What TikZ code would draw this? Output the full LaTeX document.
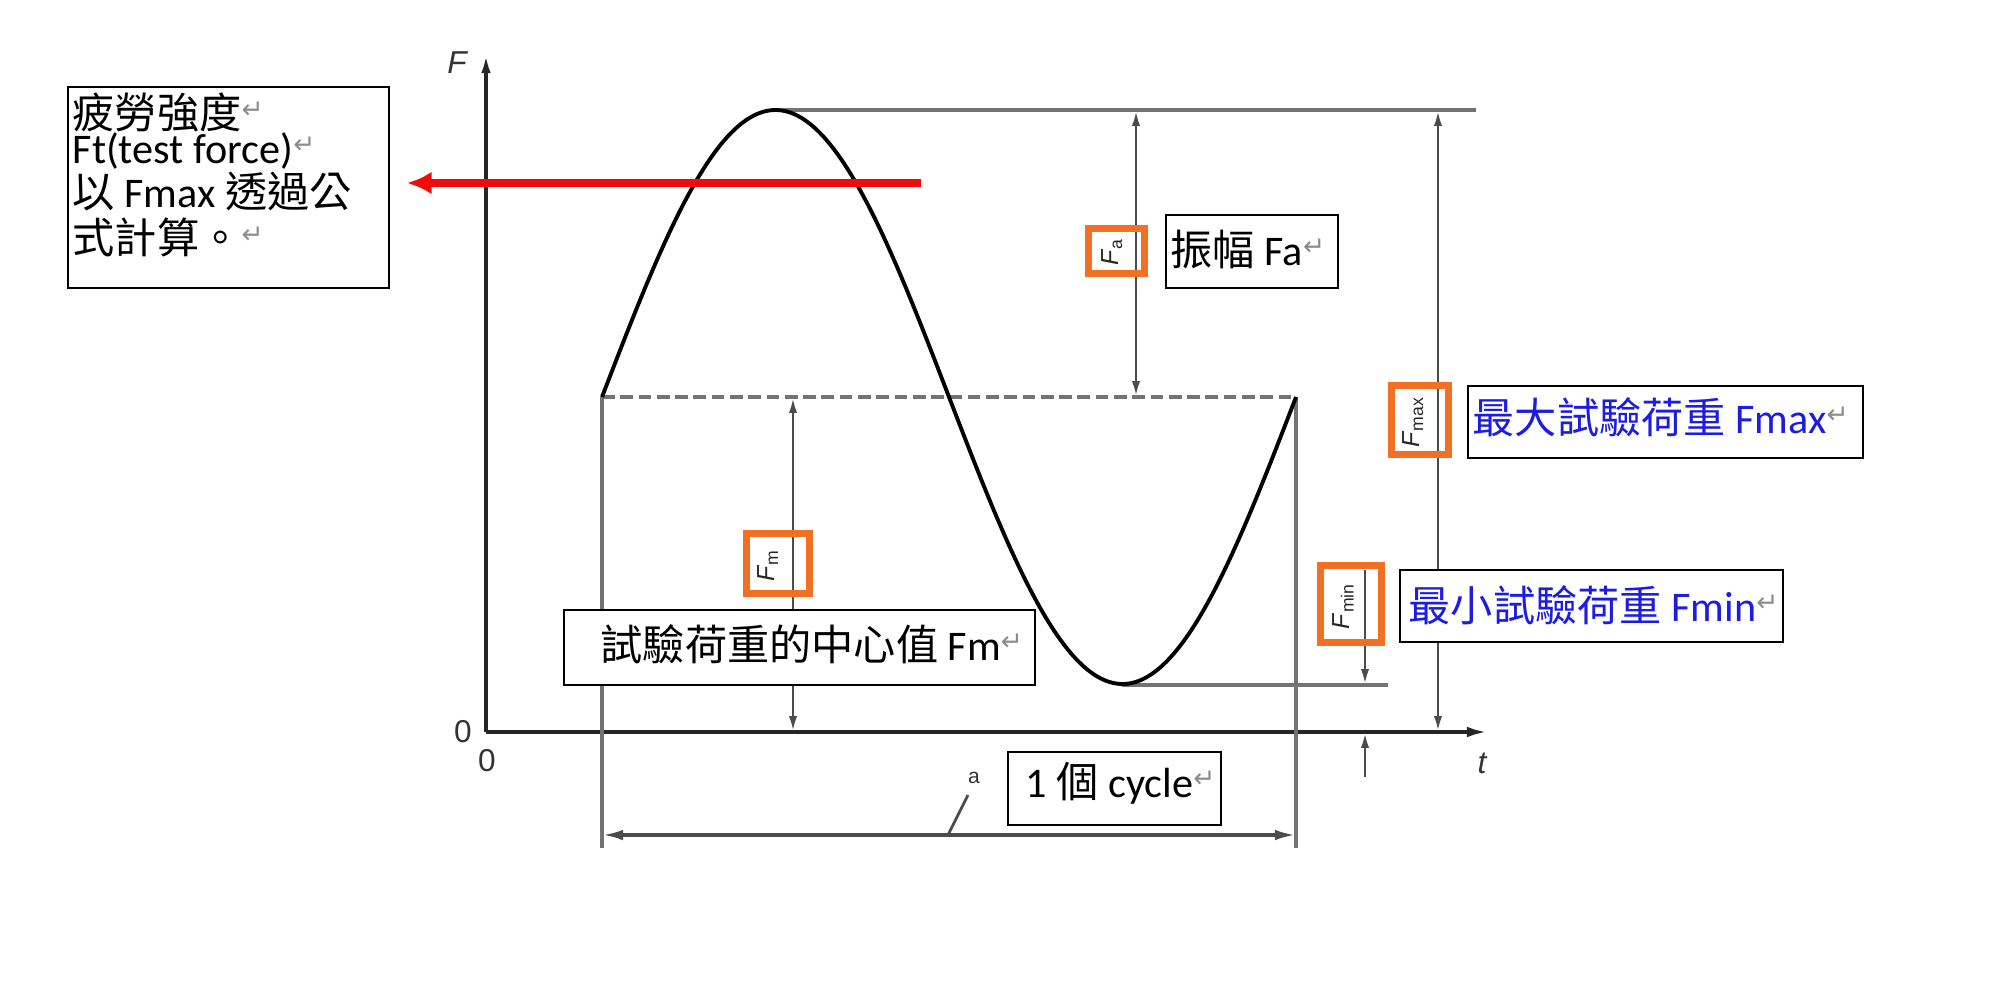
\documentclass[tikz,border=0pt]{standalone}
\usepackage{fontspec}
\setmainfont{Carlito}
\newfontfamily\cjk{Noto Sans CJK TC}
\newfontfamily\arialf{Liberation Sans}
\newfontfamily\dvs{DejaVu Sans}
\usetikzlibrary{arrows.meta}
\definecolor{orng}{RGB}{242,112,36}
\definecolor{blu}{RGB}{28,28,226}
\definecolor{redar}{RGB}{240,12,12}
\newcommand\parmk{\raisebox{2.6pt}{\dvs\fontsize{7.5}{7.5}\selectfont\color{black!45}↵}}
\begin{document}
\begin{tikzpicture}[x=0.01cm,y=-0.01cm,
  axisline/.style={line width=1.1pt,draw=black!85},
  extline/.style={line width=1.1pt,draw=black!55},
  dimline/.style={line width=0.8pt,draw=black!70},
  dtip/.style={-{Latex[length=4.5pt,width=2.3pt]}},
  ddtip/.style={{Latex[length=4.5pt,width=2.3pt]}-{Latex[length=4.5pt,width=2.3pt]}},
  txtbox/.style={draw=black,line width=0.7pt,fill=white,inner sep=0pt},
  obox/.style={draw=orng,line width=2.1pt,inner sep=0pt},
  boxtext/.style={anchor=base west,inner sep=0pt,font=\fontsize{12}{12}\selectfont},
  rlab/.style={rotate=90,inner sep=0pt,font=\arialf\fontsize{7}{7}\selectfont,text=black!85},
  axlab/.style={inner sep=0pt,font=\arialf\fontsize{9}{9}\selectfont,text=black!80}
]
\useasboundingbox (0,0) rectangle (2000,1000);

% coordinates
\coordinate (O) at (486,732);
\coordinate (Ytop) at (486,52);
\coordinate (Xend) at (1488,732);
\coordinate (cS) at (602,397);
\coordinate (cE) at (1296,397);
\coordinate (pk) at (776,110);
\coordinate (topR) at (1476,110);
\coordinate (tr) at (1122,685);
\coordinate (trR) at (1388,685);
\coordinate (v1b) at (602,848);
\coordinate (v2b) at (1296,848);
\coordinate (cyL) at (602,835);
\coordinate (cyR) at (1296,835);
\coordinate (ldA) at (948,835);
\coordinate (ldB) at (968,795);
\coordinate (fmT) at (793,397);
\coordinate (fmB) at (793,732);
\coordinate (faT) at (1136,110);
\coordinate (faB) at (1136,397);
\coordinate (fxT) at (1438,110);
\coordinate (fxB) at (1438,732);
\coordinate (fnA) at (1365,570);
\coordinate (fnB) at (1365,685);
\coordinate (fnC) at (1365,732);
\coordinate (fnD) at (1365,777);
\coordinate (redS) at (921,183);
\coordinate (redE) at (407,183);

% axes
\draw[axisline,-{Latex[length=6pt,width=2.6pt]}] (O) -- (Ytop);
\draw[axisline,-{Latex[length=6pt,width=3pt]}] (O) -- (Xend);
\node[axlab,font=\arialf\itshape\fontsize{9}{9}\selectfont] (Flab) at (457,63) {F};
\node[axlab,font=\arialf\itshape\fontsize{9}{9}\selectfont] (tlab) at (1482,763) {t};
\node[axlab] (zeroY) at (463,732) {0};
\node[axlab] (zeroX) at (487,761) {0};

% extension lines
\draw[extline] (pk) -- (topR);
\draw[extline] (tr) -- (trR);
\draw[extline] (cS) -- (v1b);
\draw[extline] (cE) -- (v2b);
\draw[extline,line width=0.9pt,dash pattern=on 3.6pt off 1.6pt] (cS) -- (cE);

% sine curve
\draw[line width=1.1pt,black] plot[domain=0:360,samples=140,smooth] ({602+1.927778*\x},{397-287*sin(\x)});

% dimension lines
\draw[dimline,ddtip] (fmT) -- (fmB);
\draw[dimline,ddtip] (faT) -- (faB);
\draw[dimline,ddtip] (fxT) -- (fxB);
\draw[dimline,dtip] (fnA) -- (fnB);
\draw[dimline,dtip] (fnD) -- (fnC);
\draw[dimline,line width=1pt,{Latex[length=6pt,width=3pt]}-{Latex[length=6pt,width=3pt]}] (cyL) -- (cyR);
\draw[dimline] (ldA) -- (ldB);
\node[axlab,font=\arialf\fontsize{6}{6}\selectfont] (alab) at (974,778) {a};

% orange boxes and rotated labels
\node[obox,minimum width=0.56cm,minimum height=0.45cm] (oFa) at (1116.5,251) {};
\node[obox,minimum width=0.63cm,minimum height=0.60cm] (oFm) at (778,563.5) {};
\node[obox,minimum width=0.57cm,minimum height=0.69cm] (oFx) at (1420,420) {};
\node[obox,minimum width=0.61cm,minimum height=0.77cm] (oFn) at (1351,604) {};
\node[rlab] (lFa) at (1112,252) {\textit{F}\textsubscript{a}};
\node[rlab] (lFm) at (768,565) {\textit{F}\textsubscript{m}};
\node[rlab] (lFx) at (1413,422) {\textit{F}\textsubscript{max}};
\node[rlab] (lFn) at (1343,606) {\textit{F}\textsubscript{min}};

% text boxes
\node[txtbox,minimum width=3.21cm,minimum height=2.01cm] (leftBox) at (228.5,187.5) {};
\node[boxtext] (l1) at (72,128) {{\cjk 疲勞強度}\parmk};
\node[boxtext] (l2) at (72,163) {Ft(test force)\parmk};
\node[boxtext] (l3) at (72,207) {{\cjk 以} Fmax {\cjk 透過公}};
\node[boxtext] (l4) at (72,253) {{\cjk 式計算。}\parmk};

\node[txtbox,minimum width=1.72cm,minimum height=0.73cm] (faBox) at (1252,251.5) {};
\node[boxtext] (faTxt) at (1170,265) {{\cjk 振幅} Fa\parmk};

\node[txtbox,minimum width=3.95cm,minimum height=0.72cm] (fxBox) at (1665.5,422) {};
\node[boxtext,text=blu] (fxTxt) at (1472,433) {{\cjk 最大試驗荷重} Fmax\parmk};

\node[txtbox,minimum width=3.83cm,minimum height=0.72cm] (fnBox) at (1591.5,606) {};
\node[boxtext,text=blu] (fnTxt) at (1408,621) {{\cjk 最小試驗荷重} Fmin\parmk};

\node[txtbox,minimum width=4.71cm,minimum height=0.75cm] (fmBox) at (799.5,647.5) {};
\node[boxtext] (fmTxt) at (600,660) {{\cjk 試驗荷重的中心值} Fm\parmk};

\node[txtbox,minimum width=2.13cm,minimum height=0.73cm] (cyBox) at (1114.5,788.5) {};
\node[boxtext] (cyTxt) at (1025,797) {1 {\cjk 個} cycle\parmk};

% red arrow
\draw[redar,line width=2pt,-{Latex[length=7pt,width=6.5pt]}] (redS) -- (redE);
\end{tikzpicture}
\end{document}
